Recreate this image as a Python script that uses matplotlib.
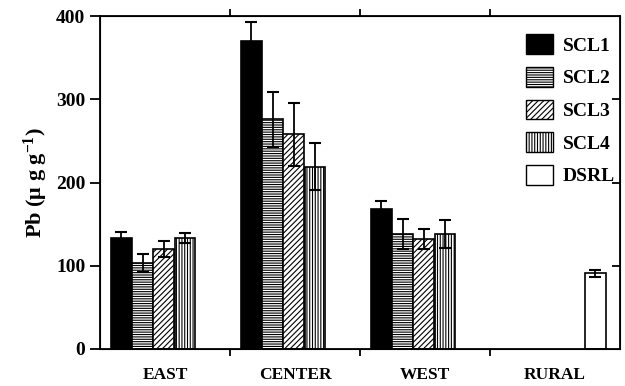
import numpy as np
import matplotlib.pyplot as plt
from matplotlib.patches import Patch

# data
sites = ['EAST', 'CENTER', 'WEST', 'RURAL']
series = ['SCL1', 'SCL2', 'SCL3', 'SCL4']
means = np.array([[133, 103, 120, 133],
                  [370, 276, 258, 219],
                  [168, 138, 132, 138]])
errs = np.array([[7, 11, 10, 6],
                 [23, 33, 38, 28],
                 [10, 18, 12, 17]])
dsrl_mean = 91
dsrl_err = 4

hatches = ['', '-------', '//////', '||||||']
colors = ['black', 'white', 'white', 'white']

plt.rcParams['font.family'] = ['Liberation Serif', 'DejaVu Serif']
plt.rcParams['font.weight'] = 'bold'
plt.rcParams['mathtext.fontset'] = 'custom'
plt.rcParams['mathtext.rm'] = 'Liberation Serif:bold'
plt.rcParams['mathtext.it'] = 'Liberation Serif:bold'
plt.rcParams['mathtext.bf'] = 'Liberation Serif:bold'
plt.rcParams['hatch.linewidth'] = 0.8

fig = plt.figure(figsize=(6.25, 3.86), dpi=100)
ax = fig.add_axes([0.16, 0.0959, 0.832, 0.8626])

w = 0.16
for j in range(4):
    x = np.arange(3) + 0.165 + j * 0.163
    ax.bar(x, means[:, j], w, color=colors[j], edgecolor='black', hatch=hatches[j],
           linewidth=1.2, zorder=2)
    ax.errorbar(x, means[:, j], yerr=errs[:, j], fmt='none', ecolor='black',
                elinewidth=1.3, capsize=4, capthick=1.5, zorder=3)

ax.bar([3.81], [dsrl_mean], w, color='white', edgecolor='black', linewidth=1.2, zorder=2)
ax.errorbar([3.81], [dsrl_mean], yerr=[dsrl_err], fmt='none', ecolor='black',
            elinewidth=1.3, capsize=4, capthick=1.5, zorder=3)

ax.set_xlim(0, 4)
ax.set_ylim(0, 400)
ax.set_yticks([0, 100, 200, 300, 400])
ax.tick_params(axis='y', labelsize=14, length=7, width=1.3, direction='out')
ax.set_xticks([1, 2, 3])
ax.set_xticklabels([])
ax.set_xticks(np.arange(4) + 0.5, minor=True)
ax.set_xticklabels(sites, minor=True, fontsize=12.5, fontweight='bold')
ax.tick_params(axis='x', which='minor', length=0, pad=13)
ax.tick_params(axis='x', which='major', length=5, width=1.3, direction='out',
               top=True)
for s in ax.spines.values():
    s.set_linewidth(1.3)

# inward ticks on the right spine
ax2 = ax.twinx()
ax2.set_ylim(0, 400)
ax2.set_yticks([100, 200, 300])
ax2.tick_params(axis='y', direction='in', length=6, width=1.3, labelright=False)

ax.set_ylabel('Pb (μ g g$^{-1}$)', fontsize=16, fontweight='bold', labelpad=4)

handles = [Patch(facecolor=colors[j], edgecolor='black', hatch=hatches[j]) for j in range(4)]
handles.append(Patch(facecolor='white', edgecolor='black'))
ax.legend(handles, series + ['DSRL'], loc='upper right', frameon=False, fontsize=14,
          handlelength=1.4, handleheight=1.2, labelspacing=0.62, handletextpad=0.5,
          borderaxespad=0.2, bbox_to_anchor=(1.012, 0.98))

fig.savefig('out.png', dpi=100)
